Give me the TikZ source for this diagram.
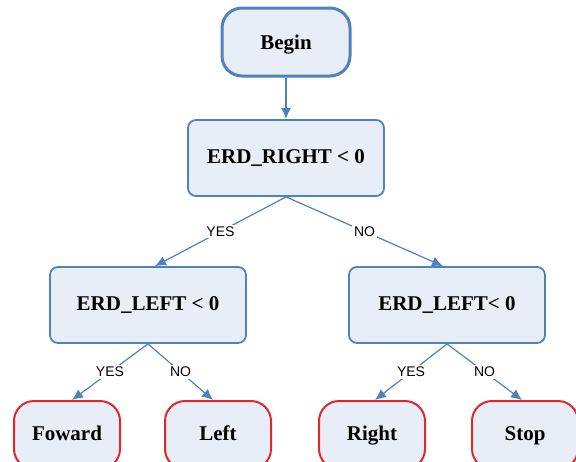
\documentclass[tikz,border=0pt]{standalone}
\usepackage{fontspec}
\setmainfont{Liberation Serif}
\newfontfamily\lblfont{Liberation Sans}
\usetikzlibrary{shapes.geometric, arrows.meta, positioning}

\definecolor{boxblue}{RGB}{79,129,189}
\definecolor{boxfill}{RGB}{232,238,247}
\definecolor{endred}{RGB}{226,38,42}

\tikzstyle{startstop} = [rectangle, rounded corners=10pt, minimum width=64pt, minimum height=34pt, text height=7.5pt, text depth=0.5pt, draw=boxblue, line width=1.5pt, fill=boxfill, font=\fontsize{10.5}{12}\selectfont\bfseries]
\tikzstyle{decision} = [rectangle, rounded corners=4pt, minimum width=98pt, minimum height=38pt, draw=boxblue, line width=0.9pt, fill=boxfill, font=\fontsize{10.5}{12}\selectfont\bfseries]
\tikzstyle{action} = [rectangle, rounded corners=10pt, minimum width=53pt, minimum height=34pt, text height=7.5pt, text depth=2.5pt, draw=endred, line width=1pt, fill=boxfill, font=\fontsize{10.5}{12}\selectfont\bfseries]
\tikzstyle{arrow} = [line width=0.6pt,-{Latex[length=5.5pt,width=5pt]},draw=boxblue]
\tikzstyle{lbl} = [fill=white, inner sep=1pt, font=\lblfont\fontsize{7}{8}\selectfont]

\begin{document}
\begin{tikzpicture}[on grid, text centered]
        \useasboundingbox (0,0) rectangle (288pt,-230.5pt);

        \node (begin) [startstop] at (143pt,-21pt) {Begin};
        \node (right) [decision, below=58pt of begin] {ERD\_RIGHT < 0};
        \node (leftA) [decision, below left=73.5pt and 69pt of right] {ERD\_LEFT < 0};
        \node (leftB) [decision, below right=73.5pt and 80.5pt of right] {ERD\_LEFT< 0};
        \node (fwd) [action, below left=65pt and 40.5pt of leftA] {Foward};
        \node (lft) [action, below right=65pt and 35pt of leftA] {Left};
        \node (rgt) [action, below left=65pt and 37.5pt of leftB] {Right};
        \node (stp) [action, below right=65pt and 39pt of leftB] {Stop};

        \draw[arrow] (begin) -- (right);
        \draw[arrow] (right.south) -- node[lbl] {YES} ([xshift=3.5pt]leftA.north);
        \draw[arrow] (right.south) -- node[lbl] {NO} ([xshift=-2pt]leftB.north);
        \draw[arrow] (leftA.south) -- node[lbl] {YES} ([xshift=2.5pt]fwd.north);
        \draw[arrow] (leftA.south) -- node[lbl] {NO} ([xshift=-2.5pt]lft.north);
        \draw[arrow] (leftB.south) -- node[lbl] {YES} ([xshift=1.5pt]rgt.north);
        \draw[arrow] (leftB.south) -- node[lbl] {NO} ([xshift=-1.5pt]stp.north);

    \end{tikzpicture}
\end{document}
